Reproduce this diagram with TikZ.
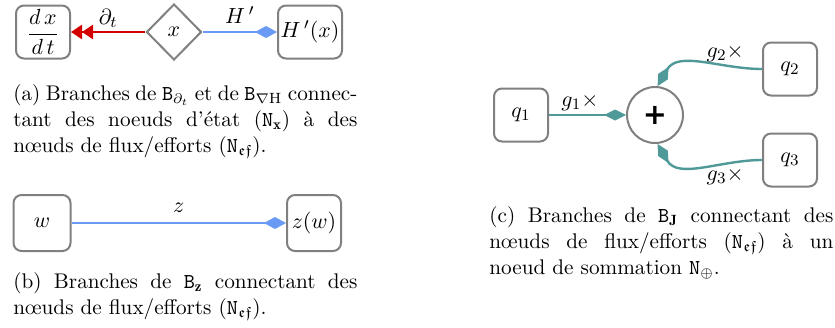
\documentclass[tikz,border=0pt]{standalone}
\usepackage{amsmath,amssymb}
\usepackage{fontspec}
\newfontfamily\plusfont{DejaVu Sans}
\usepackage{xcolor}
\definecolor{brred}{HTML}{D40000}
\definecolor{brblue}{HTML}{6A9BF4}
\definecolor{brteal}{HTML}{4F9A98}
\usetikzlibrary{positioning,arrows.meta,shapes.geometric}
\tikzset{
  nbox/.style  ={rectangle, rounded corners=4pt, draw=black!50, line width=1pt, fill=white,
                 minimum width=27pt, minimum height=26.5pt, inner sep=1pt, font=\fontsize{11}{13}\selectfont},
  xdiam/.style ={diamond, draw=black!50, line width=1pt, fill=white,
                 minimum width=27.5pt, minimum height=28pt, inner sep=0pt, font=\fontsize{11}{13}\selectfont},
  sumnode/.style={circle, draw=black!50, line width=1pt, fill=white, minimum size=28pt,
                 inner sep=0pt, font=\plusfont\bfseries\Large},
  darr/.style  ={brred, line width=1.3pt, -{Triangle[length=5.5pt,width=7pt]Triangle[length=5.5pt,width=7pt]}},
  harr/.style  ={brblue, line width=1.3pt, -{Diamond[length=11pt,width=6pt]}},
  jarr/.style  ={brteal, line width=1.2pt, -{Diamond[length=11pt,width=5.5pt]}},
  el/.style    ={text=black, font=\fontsize{11}{13}\selectfont, inner sep=1.5pt},
  capt/.style  ={font=\fontsize{10.6}{13}\selectfont, text width=172pt, align=justify,
                 anchor=north west, inner sep=0pt},
}
\newcommand{\ttsub}[2]{\texttt{#1}$_{#2}$}

\begin{document}
\begin{tikzpicture}[x=0.5pt, y=-0.5pt]
  \useasboundingbox (0,0) rectangle (835,327);
  % (a)
  \node[nbox] (dxdt) at (43,32) {$\dfrac{d\,x}{d\,t}$};
  \node[xdiam] (x) at (174,32) {$x$};
  \node[nbox, minimum width=32pt] (Hx) at (310,32) {$H\,'(x)$};
  \draw[darr] (x) -- (dxdt) node[el, midway, above] {$\partial_t$};
  \draw[harr] (x) -- (Hx) node[el, midway, above=2pt] {$H\,'$};
  \node[capt] (capa) at (13,82) {\baselineskip=13pt\strut\hangindent=15.5pt\hangafter=1
    (a)~Branches de \ttsub{B}{\partial_t} et de \ttsub{B}{\nabla\mathrm{H}} connec-\linebreak
    tant des noeuds d’état (\ttsub{N}{\mathbf{x}}) à des\linebreak
    nœuds de flux/efforts (\ttsub{N}{\mathfrak{ef}}).};
  % (b)
  \node[nbox, minimum width=28.5pt, minimum height=28pt] (w) at (42,223) {$w$};
  \node[nbox, minimum height=28pt] (zw) at (314,223) {$z(w)$};
  \draw[harr] (w) -- (zw) node[el, midway, above=3pt] {$z$};
  \node[capt] (capb) at (13,270) {\baselineskip=13pt\strut\hangindent=15.5pt\hangafter=1
    (b)~Branches de \ttsub{B}{\mathbf{z}} connectant des\linebreak
    nœuds de flux/efforts (\ttsub{N}{\mathfrak{ef}}).};
  % (c)
  \node[nbox] (q1) at (521,115) {$q_1$};
  \node[sumnode] (sum) at (655,115) {+};
  \node[nbox] (q2) at (790,69) {$q_2$};
  \node[nbox] (q3) at (790,160) {$q_3$};
  \draw[jarr] (q1) -- (sum) node[el, pos=0.4, above] {$g_1\times$};
  \draw[jarr] (q2.west) to[out=180, in=60] node[el, pos=0.3, above] {$g_2\times$} (sum.85);
  \draw[jarr] (q3.west) to[out=180, in=-60] node[el, pos=0.3, below] {$g_3\times$} (sum.-85);
  \node[capt] (capc) at (489,204) {\baselineskip=13pt\strut\hangindent=15.5pt\hangafter=1
    (c)~Branches de \ttsub{B}{\mathbf{J}} connectant des\linebreak
    nœuds de flux/efforts (\ttsub{N}{\mathfrak{ef}}) à un\linebreak
    noeud de sommation \ttsub{N}{\oplus}.};
\end{tikzpicture}
\end{document}
